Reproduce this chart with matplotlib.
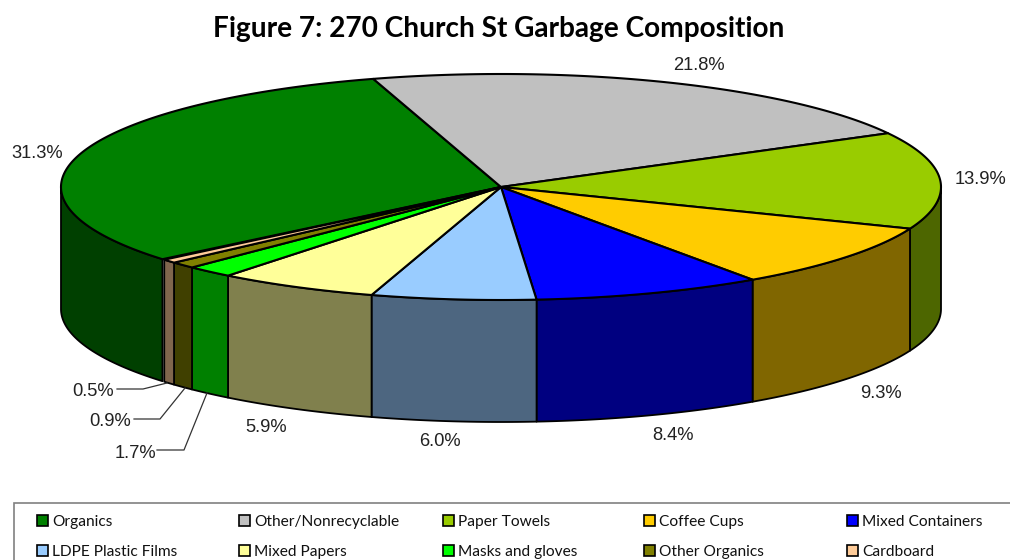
import numpy as np
import matplotlib
matplotlib.use("Agg")
import matplotlib.pyplot as plt
from matplotlib.patches import Polygon, Rectangle

plt.rcParams['font.family'] = ['Liberation Sans', 'DejaVu Sans']

# values (labels show one decimal)
categories = ['Organics', 'Other/Nonrecyclable', 'Paper Towels', 'Coffee Cups', 'Mixed Containers',
              'LDPE Plastic Films', 'Mixed Papers', 'Masks and gloves', 'Other Organics', 'Cardboard']
values = [31.34, 21.8, 13.9, 9.3, 8.4, 6.04, 5.9, 1.74, 0.94, 0.54]
colors = ['#008000', '#C0C0C0', '#99CC00', '#FFCC00', '#0000FF',
          '#99CCFF', '#FFFF99', '#00FF00', '#808000', '#FFCC99']
side_colors = ['#004000', '#606060', '#4D6600', '#806600', '#000080',
               '#4D6680', '#80804D', '#008000', '#404000', '#80664D']
title = 'Figure 7: 270 Church St Garbage Composition'

# pie geometry in pixels
cx, cy = 501, 187
rx, ry = 440, 113
depth = 122
start_deg = 230.3

# label positions
label_pos = [(37, 154), (699, 66), (981, 180), (881, 394), (673, 435),
             (440, 442), (266, 428), (135, 453), (110, 422), (93, 391)]
leaders = {
    7: [(157, 450), (184, 450), (207, 393)],
    8: [(134, 419), (160, 419), (185, 388)],
    9: [(117, 389), (143, 389), (167, 383)],
}
legend_x = [37, 239, 443, 644, 847]
legend_y = [520, 550]


def arc(a0, a1, dy=0):
    # angles are clockwise from the top of the ellipse
    t = np.radians(np.linspace(a0, a1, max(int(abs(a1 - a0)) * 2, 2) + 1))
    return np.column_stack([cx + rx * np.sin(t), cy - ry * np.cos(t) + dy])


fig = plt.figure(figsize=(10.1, 5.6), dpi=100)
ax = fig.add_axes([0, 0, 1, 1])
ax.set_xlim(0, 1010)
ax.set_ylim(560, 0)
ax.axis('off')

sweeps = np.array(values) * 3.6
ends = start_deg + np.cumsum(sweeps)
starts = ends - sweeps

# side wall: only the front half of the ellipse shows
for a0, a1, sc in zip(starts, ends, side_colors):
    for shift in (0, 360):
        lo, hi = max(a0 - shift, 90), min(a1 - shift, 270)
        if hi > lo:
            top = arc(lo, hi)
            bottom = arc(lo, hi, depth)[::-1]
            ax.add_patch(Polygon(np.vstack([top, bottom]), closed=True, facecolor=sc,
                                 edgecolor='black', linewidth=1.3, joinstyle='round'))

# top face
for a0, a1, c in zip(starts, ends, colors):
    pts = np.vstack([[(cx, cy)], arc(a0, a1)])
    ax.add_patch(Polygon(pts, closed=True, facecolor=c, edgecolor='black',
                         linewidth=1.5, joinstyle='round'))

for (x, y), v in zip(label_pos, values):
    ax.text(x, y, f'{v:.1f}%', ha='center', va='center', fontsize=13.2, color='#222222')

for pts in leaders.values():
    xs, ys = zip(*pts)
    ax.plot(xs, ys, color='#333333', linewidth=0.9)

ax.text(499, 29, title, ha='center', va='center', fontsize=20.2, fontweight='bold',
        family=['Lato', 'DejaVu Sans'], color='black')

# legend box runs off the right and bottom of the picture
ax.add_patch(Rectangle((14, 503), 1010, 80, facecolor='white', edgecolor='#808080', linewidth=1.2))
for i, (name, c) in enumerate(zip(categories, colors)):
    x = legend_x[i % 5]
    y = legend_y[i // 5]
    ax.add_patch(Rectangle((x, y - 5.5), 11, 11, facecolor=c, edgecolor='black', linewidth=1.2))
    ax.text(x + 15, y + 2, name, ha='left', va='center', fontsize=11.2,
            family=['Lato', 'DejaVu Sans'], color='#111111')

fig.savefig('out.png', dpi=100)
